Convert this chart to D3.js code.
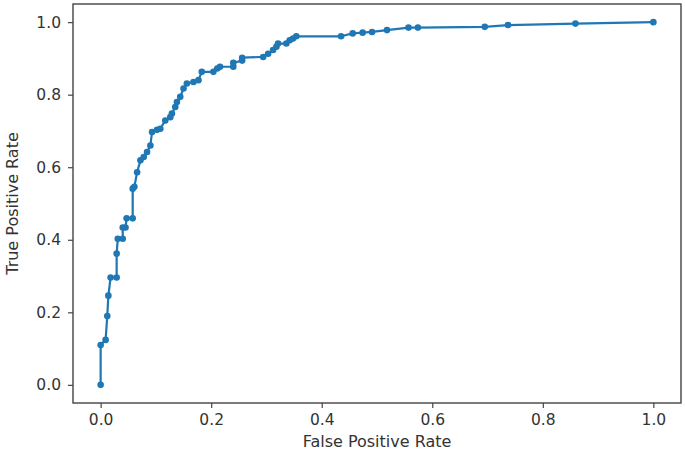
<!DOCTYPE html>
<html>
<head>
<meta charset="utf-8">
<script src="https://cdn.jsdelivr.net/npm/d3@7"></script>
<style>
  html, body { margin: 0; padding: 0; background: #fff; }
  svg text { font-family: "DejaVu Sans", sans-serif; fill: #333; }
</style>
</head>
<body>
<div id="chart"></div>
<script>
// ROC curve - false positive rate vs true positive rate
const fpr = [0, 0, 0.009, 0.012, 0.014, 0.018, 0.029, 0.029, 0.031, 0.040, 0.040, 0.045, 0.047, 0.058,
  0.058, 0.061, 0.066, 0.072, 0.078, 0.084, 0.090, 0.093, 0.102, 0.108, 0.117, 0.126, 0.129, 0.135,
  0.138, 0.144, 0.150, 0.156, 0.168, 0.177, 0.183, 0.204, 0.211, 0.216, 0.240, 0.240, 0.256, 0.256,
  0.294, 0.303, 0.312, 0.318, 0.321, 0.336, 0.342, 0.348, 0.354, 0.435, 0.456, 0.474, 0.491, 0.518,
  0.557, 0.574, 0.695, 0.737, 0.859, 1.0];
const tpr = [0, 0.11, 0.124, 0.19, 0.246, 0.296, 0.296, 0.362, 0.403, 0.403, 0.434, 0.434, 0.459, 0.459,
  0.541, 0.546, 0.586, 0.619, 0.628, 0.642, 0.660, 0.697, 0.703, 0.706, 0.729, 0.738, 0.748, 0.766,
  0.780, 0.794, 0.817, 0.831, 0.835, 0.840, 0.863, 0.863, 0.872, 0.877, 0.877, 0.888, 0.894, 0.902,
  0.904, 0.913, 0.923, 0.932, 0.941, 0.941, 0.950, 0.955, 0.961, 0.961, 0.969, 0.971, 0.973, 0.978,
  0.985, 0.985, 0.987, 0.992, 0.996, 1.0];
const xTicks = [0, 0.2, 0.4, 0.6, 0.8, 1.0];
const yTicks = [0, 0.2, 0.4, 0.6, 0.8, 1.0];

const width = 685, height = 461;
const box = { left: 73, right: 681, top: 4, bottom: 403 };
const color = '#1f77b4';

const svg = d3.select('#chart').append('svg')
  .attr('width', width)
  .attr('height', height);

const x = d3.scaleLinear().domain([-0.05, 1.05]).range([box.left, box.right]);
const y = d3.scaleLinear().domain([-0.05, 1.05]).range([box.bottom, box.top]);

const points = fpr.map((f, i) => [f, tpr[i]]);

// curve
svg.append('path')
  .datum(points)
  .attr('fill', 'none')
  .attr('stroke', color)
  .attr('stroke-width', 2.2)
  .attr('stroke-linejoin', 'round')
  .attr('d', d3.line().x(d => x(d[0])).y(d => y(d[1])));

svg.selectAll('.pt')
  .data(points)
  .enter()
  .append('circle')
  .attr('class', 'pt')
  .attr('cx', d => x(d[0]))
  .attr('cy', d => y(d[1]))
  .attr('r', 3.3)
  .attr('fill', color);

// axes
const xAxis = svg.append('g')
  .attr('transform', `translate(0,${box.bottom})`)
  .call(d3.axisBottom(x).tickValues(xTicks).tickFormat(d3.format('.1f')).tickSize(5).tickPadding(6));
const yAxis = svg.append('g')
  .attr('transform', `translate(${box.left},0)`)
  .call(d3.axisLeft(y).tickValues(yTicks).tickFormat(d3.format('.1f')).tickSize(5).tickPadding(7));

[xAxis, yAxis].forEach(g => {
  g.select('.domain').remove();
  g.selectAll('line').attr('stroke', '#444').attr('stroke-width', 1.2);
  g.selectAll('text').attr('font-size', '15.5px').style('fill', '#333');
});

// frame
svg.append('rect')
  .attr('x', box.left)
  .attr('y', box.top)
  .attr('width', box.right - box.left)
  .attr('height', box.bottom - box.top)
  .attr('fill', 'none')
  .attr('stroke', '#444')
  .attr('stroke-width', 1.4);

svg.append('text')
  .attr('x', (x(0) + x(1)) / 2)
  .attr('y', 447)
  .attr('text-anchor', 'middle')
  .attr('font-size', '16px')
  .text('False Positive Rate');

svg.append('text')
  .attr('transform', `translate(18,${(y(0) + y(1)) / 2}) rotate(-90)`)
  .attr('text-anchor', 'middle')
  .attr('font-size', '16px')
  .text('True Positive Rate');
</script>
</body>
</html>
